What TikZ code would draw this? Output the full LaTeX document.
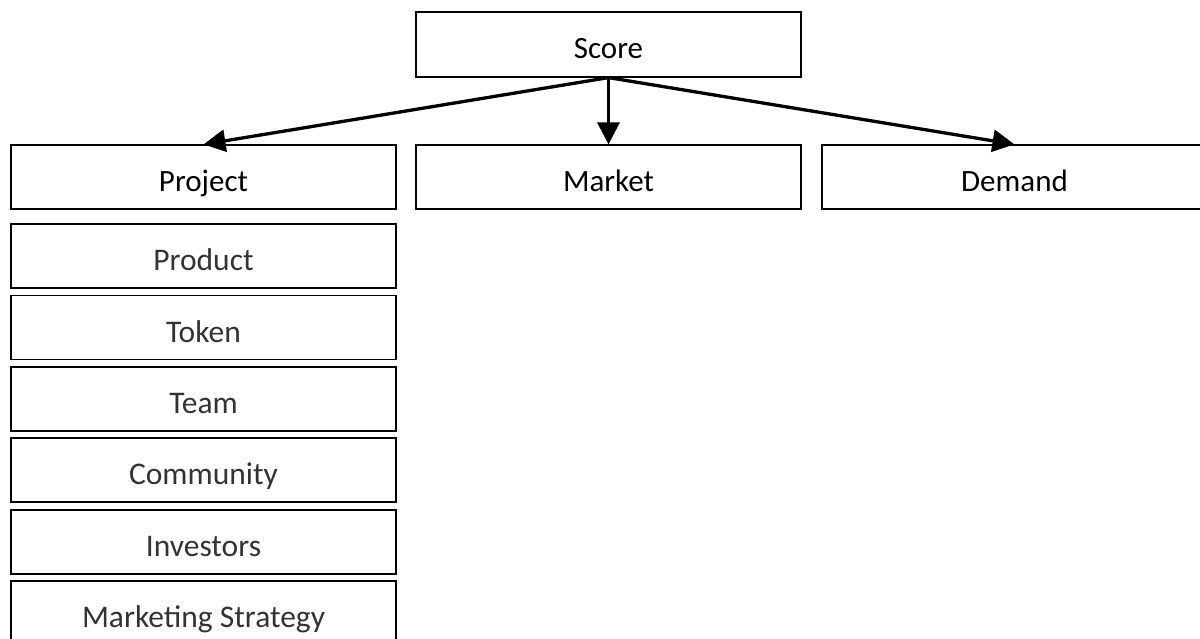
\documentclass[tikz,border=0pt]{standalone}
\usepackage{fontspec}
\setmainfont{Carlito}
\usetikzlibrary{arrows.meta}
\tikzset{
  box/.style={draw=black, line width=1.2pt, rectangle, inner sep=0pt,
    minimum width=385pt, minimum height=64pt, text height=29pt, text depth=0pt,
    font=\fontsize{31}{37}\selectfont},
  subbox/.style={box, text=black!80, font=\fontsize{31.5}{37}\selectfont},
  conn/.style={line width=3.3pt, -{Triangle[length=22pt,width=22pt]}}
}
\begin{document}
\begin{tikzpicture}[x=1pt,y=-1pt]
\useasboundingbox (0,0) rectangle (1200,639);
\clip (0,0) rectangle (1200,639);
\node[box, minimum height=65pt] (score) at (608.5,44.5) {Score};
\node[box] (project) at (203.5,177) {Project};
\node[box] (market) at (608.5,177) {Market};
\node[box] (demand) at (1014.5,177) {Demand};
\node[subbox] (product) at (203.5,256) {Product};
\node[subbox] (token) at (203.5,327.5) {Token};
\node[subbox] (team) at (203.5,399) {Team};
\node[subbox] (community) at (203.5,470) {Community};
\node[subbox] (investors) at (203.5,542) {Investors};
\node[subbox] (marketing) at (203.5,613) {Marketing Strategy};
\draw[conn] (score.south) -- (project.north);
\draw[conn] (score.south) -- (market.north);
\draw[conn] (score.south) -- (demand.north);
\end{tikzpicture}
\end{document}
